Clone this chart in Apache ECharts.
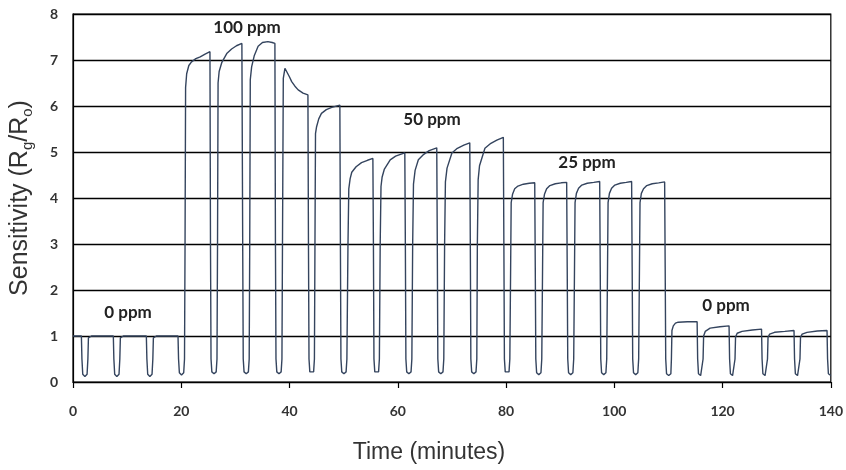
<!DOCTYPE html>
<html>
<head>
<meta charset="utf-8">
<script src="https://cdn.jsdelivr.net/npm/echarts@6/dist/echarts.min.js"></script>
<style>html,body{margin:0;padding:0;background:#fff}#c{width:846px;height:470px}</style>
</head>
<body>
<div id="c"></div>
<script>
// ---- data: [time (min), sensitivity Rg/Ro] ----
var phase0 = [
[0,1.0],[1.55,1.0],[1.65,0.5],[1.8,0.17],[2.2,0.12],[2.6,0.17],[2.75,0.5],[2.85,0.96],[3.4,1.0],
[7.45,1.0],[7.55,0.5],[7.7,0.17],[8.1,0.12],[8.5,0.17],[8.65,0.5],[8.75,0.96],[9.3,1.0],
[13.55,1.0],[13.65,0.5],[13.8,0.17],[14.2,0.12],[14.6,0.17],[14.75,0.5],[14.85,0.96],[15.4,1.0],
[19.4,1.0],[19.5,0.5],[19.65,0.2],[20.05,0.15],[20.45,0.2],[20.6,0.5]
];
var phase100 = [
[20.7,3.0],[20.8,6.4],[21.0,6.7],[21.4,6.88],[21.9,6.96],[22.7,7.03],[23.5,7.07],[24.4,7.13],[25.3,7.18],
[25.4,3.0],[25.5,0.5],[25.65,0.22],[26.05,0.18],[26.45,0.22],[26.6,0.5],[26.7,3.0],[26.8,6.5],[27.0,6.75],[27.5,6.95],[28.4,7.14],[29.3,7.24],[30.2,7.31],[31.2,7.36],
[31.35,3.0],[31.45,0.5],[31.6,0.22],[32.0,0.18],[32.4,0.22],[32.55,0.5],[32.65,3.0],[32.75,6.57],[33.0,6.85],[33.5,7.1],[34.2,7.3],[35.0,7.38],[36.0,7.4],[36.8,7.38],[37.3,7.36],
[37.4,3.0],[37.5,0.5],[37.65,0.22],[38.05,0.18],[38.45,0.22],[38.6,0.5],[38.7,3.0],[38.85,6.6],[39.15,6.82],[39.4,6.78],[40.0,6.63],[40.4,6.53],[41.0,6.43],[41.6,6.35],[42.5,6.28],[43.4,6.24],
[43.5,3.0],[43.6,0.5],[43.75,0.22],[44.1,0.18],[44.45,0.22],[44.6,0.5],[44.7,3.0],[44.8,5.4],[45.0,5.55],[45.4,5.72],[45.9,5.84],[46.8,5.92],[47.8,5.97],[49.3,6.02]
];
var phase50 = [
[49.4,3.0],[49.5,0.5],[49.65,0.22],[50.05,0.18],[50.45,0.22],[50.6,0.5],[50.8,3.0],[50.95,4.2],[51.2,4.42],[51.5,4.56],[52.3,4.68],[53.3,4.77],[54.4,4.82],[55.4,4.86],
[55.5,3.0],[55.6,0.5],[55.75,0.22],[56.1,0.18],[56.45,0.22],[56.6,0.5],[56.75,3.0],[56.9,4.25],[57.1,4.45],[57.5,4.62],[58.6,4.83],[59.6,4.91],[60.5,4.95],[61.3,4.98],
[61.4,3.0],[61.5,0.5],[61.65,0.22],[62.05,0.18],[62.45,0.22],[62.6,0.5],[62.75,3.0],[62.9,4.3],[63.2,4.6],[63.8,4.83],[64.8,4.95],[65.8,5.03],[67.2,5.09],
[67.3,3.0],[67.4,0.5],[67.55,0.22],[67.95,0.18],[68.35,0.22],[68.5,0.5],[68.65,3.0],[68.8,4.35],[69.1,4.65],[70.0,4.98],[71.0,5.08],[72.2,5.15],[73.3,5.2],
[73.4,3.0],[73.5,0.5],[73.65,0.22],[74.05,0.18],[74.45,0.22],[74.6,0.5],[74.7,3.0],[74.85,4.4],[75.1,4.7],[76.1,5.08],[77.2,5.19],[78.3,5.26],[79.5,5.32]
];
var phase25 = [
[79.6,3.0],[79.7,0.5],[79.85,0.22],[80.2,0.18],[80.55,0.22],[80.7,0.5],[80.85,2.5],[80.95,3.9],[81.2,4.08],[81.6,4.2],[82.2,4.26],[83.2,4.3],[84.3,4.32],[85.3,4.33],
[85.4,2.5],[85.5,0.5],[85.65,0.2],[86.05,0.16],[86.45,0.2],[86.6,0.5],[86.75,2.5],[86.85,3.9],[87.1,4.08],[87.5,4.2],[88.1,4.27],[89.1,4.31],[90.2,4.33],[91.2,4.34],
[91.3,2.5],[91.4,0.5],[91.55,0.2],[91.95,0.16],[92.35,0.2],[92.5,0.5],[92.65,2.5],[92.75,3.9],[93.0,4.1],[93.4,4.21],[94.0,4.28],[95.0,4.32],[96.2,4.34],[97.3,4.36],
[97.4,2.5],[97.5,0.5],[97.65,0.2],[98.05,0.16],[98.45,0.2],[98.6,0.5],[98.75,2.5],[98.85,3.9],[99.1,4.1],[99.5,4.21],[100.1,4.28],[101.1,4.32],[102.2,4.34],[103.2,4.36],
[103.3,2.5],[103.4,0.5],[103.55,0.2],[103.95,0.16],[104.35,0.2],[104.5,0.5],[104.65,2.5],[104.75,3.9],[105.0,4.1],[105.4,4.2],[106.0,4.27],[107.0,4.31],[108.2,4.33],[109.3,4.35]
];
var phaseRecovery = [
[109.4,2.5],[109.5,0.5],[109.65,0.18],[110.05,0.14],[110.45,0.18],[110.55,0.5],[110.65,1.12],[110.9,1.22],[111.3,1.28],[111.8,1.3],[113.5,1.31],[115.3,1.31],
[115.4,0.5],[115.55,0.18],[115.95,0.14],[116.3,0.18],[116.4,0.5],[116.5,1.0],[116.8,1.1],[117.7,1.17],[119.5,1.2],[121.2,1.22],
[121.3,0.5],[121.45,0.18],[121.85,0.14],[122.2,0.18],[122.3,0.5],[122.4,0.98],[122.7,1.06],[123.6,1.1],[125.5,1.13],[127.2,1.15],
[127.3,0.5],[127.45,0.18],[127.85,0.14],[128.2,0.18],[128.3,0.5],[128.4,0.97],[128.7,1.04],[129.6,1.08],[131.5,1.1],[133.2,1.12],
[133.3,0.5],[133.45,0.18],[133.85,0.14],[134.2,0.18],[134.3,0.5],[134.4,0.97],[134.7,1.04],[135.6,1.08],[137.5,1.11],[139.3,1.12],
[139.4,0.5],[139.55,0.18],[140,0.14]
];
var xTicks = [0, 20, 40, 60, 80, 100, 120, 140];
var yTicks = [0, 1, 2, 3, 4, 5, 6, 7, 8];
var annotations = ['100 ppm', '50 ppm', '25 ppm', '0 ppm', '0 ppm'];
var xTitle = 'Time (minutes)';

var series = phase0.concat(phase100, phase50, phase25, phaseRecovery);

var chart = echarts.init(document.getElementById('c'), null, {renderer: 'canvas'});
var labelFont = {fontFamily: 'Lato', fontWeight: 'bold', fontSize: 17, fill: '#222'};
function ann(text, cx, cy) {
  return {type: 'text', x: cx, y: cy, style: Object.assign({text: text, align: 'center', verticalAlign: 'middle'}, labelFont)};
}
chart.setOption({
  animation: false,
  backgroundColor: '#fff',
  grid: {left: 73, right: 15, top: 14, bottom: 88, show: true, borderColor: '#000', borderWidth: 1.2},
  xAxis: {
    type: 'value', min: xTicks[0], max: xTicks[xTicks.length - 1], interval: 20,
    axisLine: {show: true, onZero: false, lineStyle: {color: '#000', width: 1.2}},
    axisTick: {show: true, inside: false, length: 6, lineStyle: {color: '#000', width: 1.2}},
    axisLabel: {margin: 22, fontFamily: 'Lato', fontWeight: 'bold', fontSize: 14, color: '#333'},
    splitLine: {show: false}
  },
  yAxis: {
    type: 'value', min: yTicks[0], max: yTicks[yTicks.length - 1], interval: 1,
    axisLine: {show: true, lineStyle: {color: '#000', width: 1.2}},
    axisTick: {show: false},
    axisLabel: {margin: 15, fontFamily: 'Lato', fontWeight: 'bold', fontSize: 14, color: '#333'},
    splitLine: {show: true, lineStyle: {color: '#000', width: 1.3}},
    name: '{a|Sensitivity (R}{s|g}{a|/R}{s|o}{a|)}',
    nameLocation: 'middle', nameGap: 38, nameRotate: 90,
    nameTextStyle: {
      rich: {
        a: {fontFamily: 'Liberation Sans', fontSize: 25, color: '#333', lineHeight: 29},
        s: {fontFamily: 'Liberation Sans', fontSize: 15, color: '#333', verticalAlign: 'bottom', lineHeight: 15}
      }
    }
  },
  series: [{
    type: 'line', data: series, showSymbol: false, smooth: false,
    lineStyle: {color: '#34445e', width: 1.4},
    z: 3
  }],
  graphic: [
    ann(annotations[0], 247, 28),
    ann(annotations[1], 432, 120),
    ann(annotations[2], 587, 163),
    ann(annotations[3], 128, 313),
    ann(annotations[4], 726, 306),
    {type: 'text', x: 429, y: 453, style: {text: xTitle, align: 'center', verticalAlign: 'middle', fontFamily: 'Liberation Sans', fontSize: 23, fill: '#333'}}
  ]
});
</script>
</body>
</html>
